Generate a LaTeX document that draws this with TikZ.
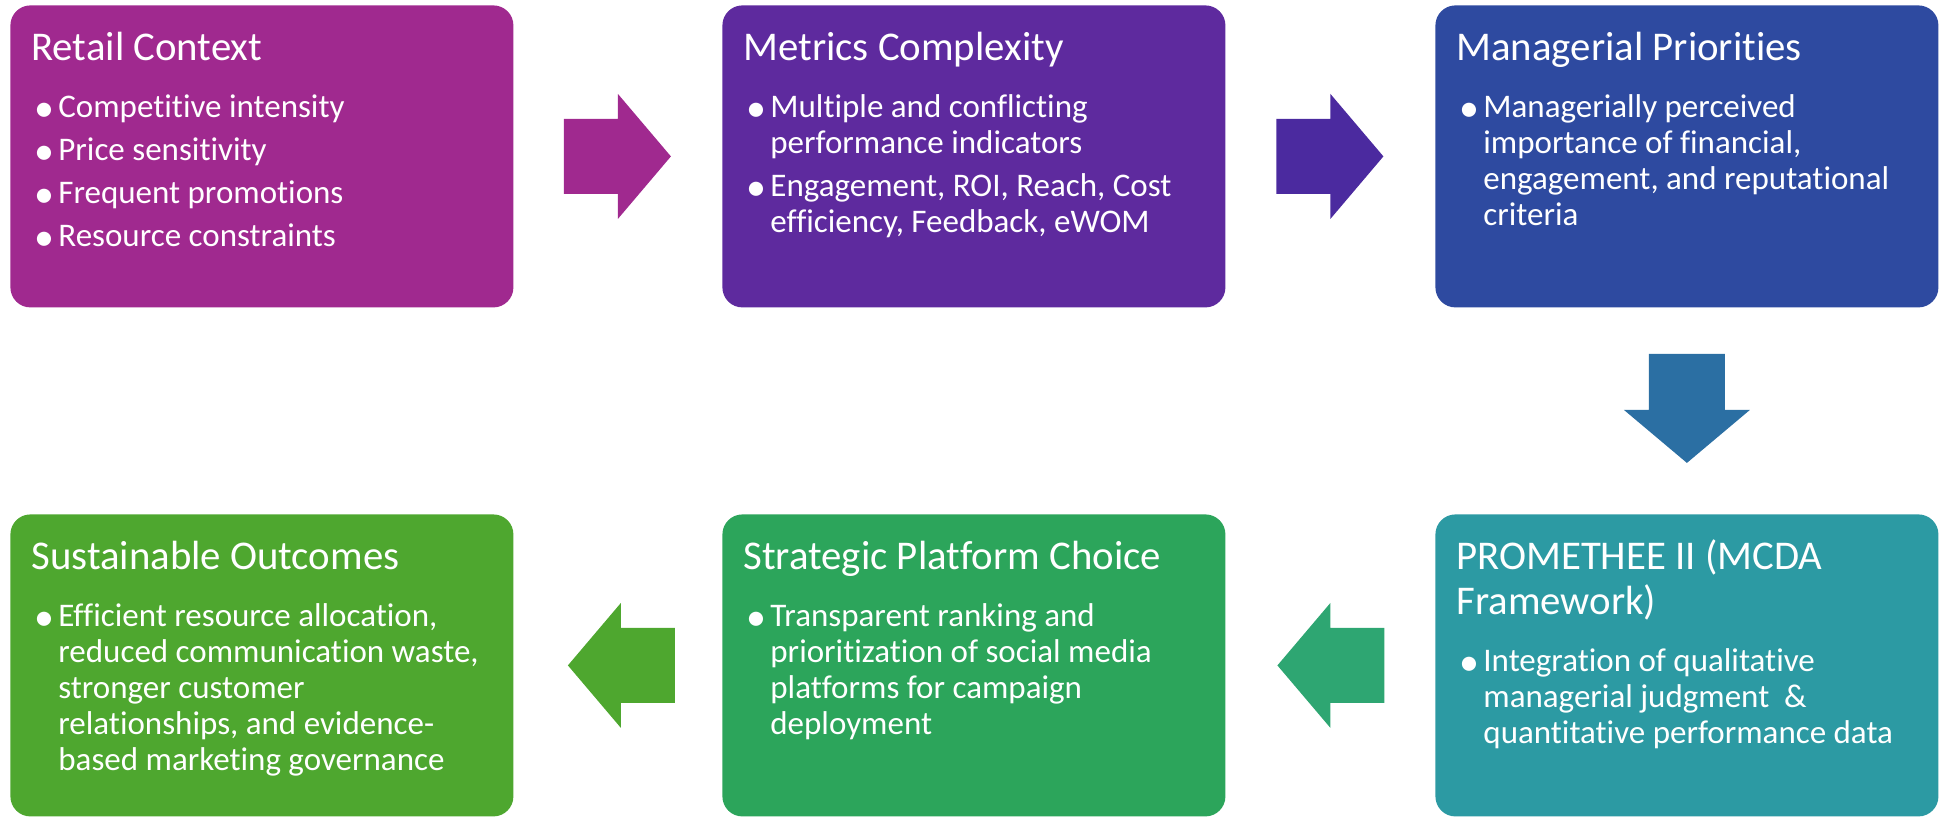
\documentclass[tikz,border=0pt]{standalone}
\usepackage{fontspec}
\setmainfont{Carlito}[Ligatures=NoCommon]
\usetikzlibrary{calc}

\definecolor{retailc}{HTML}{A0298F}
\definecolor{metricsc}{HTML}{5E2A9E}
\definecolor{metricsarr}{HTML}{4B2A9F}
\definecolor{managerc}{HTML}{2E4AA0}
\definecolor{managerarr}{HTML}{2B6FA3}
\definecolor{promc}{HTML}{2C9AA3}
\definecolor{promarr}{HTML}{2EA672}
\definecolor{strategc}{HTML}{2CA55B}
\definecolor{sustainc}{HTML}{4EA72F}

\tikzstyle{stagebox} = [rectangle,rounded corners=10pt,inner xsep=10.5pt,inner ysep=0pt,anchor=north west,text=white]

\newcommand{\stagetitle}[1]{{\fontsize{20.4pt}{22.5pt}\selectfont\rule{0pt}{27.5pt}#1\par}\vspace{7pt}}
\newcommand{\stageitem}[1]{\hangindent=13.5pt\hangafter=1\noindent\hspace*{1.5pt}\makebox[12pt][l]{\raisebox{-2pt}{\fontsize{20pt}{18pt}\selectfont\textbullet}}#1\par}
\newcommand{\stagebody}[1]{\parbox[c][151pt][t]{230.5pt}{\raggedright\lineskiplimit=-20pt\parskip=3.5pt\fontsize{16.5pt}{18pt}\selectfont #1}}

\begin{document}
\begin{tikzpicture}[x=0.5pt,y=-0.5pt]
		\useasboundingbox (0,0) rectangle (1946,826);
		% top row
		\node[stagebox,fill=retailc] (retail) at (10,5) {\stagebody{\stagetitle{Retail Context}
			\stageitem{Competitive intensity}
			\stageitem{Price sensitivity}
			\stageitem{Frequent promotions}
			\stageitem{Resource constraints}}};
		\node[stagebox,fill=metricsc] (metrics) at (722,5) {\stagebody{\stagetitle{Metrics Complexity}
			\stageitem{Multiple and conflicting\newline performance indicators}
			\stageitem{Engagement, ROI, Reach, Cost\newline efficiency, Feedback, eWOM}}};
		\node[stagebox,fill=managerc] (manager) at (1435,5) {\stagebody{\stagetitle{Managerial Priorities}
			\stageitem{Managerially perceived\newline importance of financial,\newline engagement, and reputational\newline criteria}}};
		% bottom row
		\node[stagebox,fill=promc] (promethee) at (1435,514) {\stagebody{\stagetitle{PROMETHEE II (MCDA\newline Framework)}
			\stageitem{Integration of qualitative\newline managerial judgment \ \&\newline quantitative performance data}}};
		\node[stagebox,fill=strategc] (strategic) at (722,514) {\stagebody{\stagetitle{Strategic Platform Choice}
			\stageitem{Transparent ranking and\newline prioritization of social media\newline platforms for campaign\newline deployment}}};
		\node[stagebox,fill=sustainc] (sustain) at (10,514) {\stagebody{\stagetitle{Sustainable Outcomes}
			\stageitem{Efficient resource allocation,\newline reduced communication waste,\newline stronger customer\newline relationships, and evidence-\newline based marketing governance}}};
		% block arrows
		\fill[retailc] ($(retail.east)!0.5!(metrics.west)$) ++(-54,-37.5) -- ++(54,0) -- ++(0,-25) -- ++(53,62.5) -- ++(-53,62.5) -- ++(0,-25) -- ++(-54,0) -- cycle;
		\fill[metricsarr] ($(metrics.east)!0.5!(manager.west)$) ++(-54,-37.5) -- ++(54,0) -- ++(0,-25) -- ++(53,62.5) -- ++(-53,62.5) -- ++(0,-25) -- ++(-54,0) -- cycle;
		\fill[managerarr] ($(manager.south)!0.5!(promethee.north)$) ++(-38,-57) -- ++(76,0) -- ++(0,56) -- ++(25,0) -- ++(-63,53) -- ++(-63,-53) -- ++(25,0) -- cycle;
		\fill[promarr] ($(strategic.east)!0.5!(promethee.west)$) ++(54,-37.5) -- ++(-54,0) -- ++(0,-25) -- ++(-53,62.5) -- ++(53,62.5) -- ++(0,-25) -- ++(54,0) -- cycle;
		\fill[sustainc] ($(sustain.east)!0.5!(strategic.west)$) ++(57,-37.5) -- ++(-54,0) -- ++(0,-25) -- ++(-53,62.5) -- ++(53,62.5) -- ++(0,-25) -- ++(54,0) -- cycle;
\end{tikzpicture}
\end{document}
